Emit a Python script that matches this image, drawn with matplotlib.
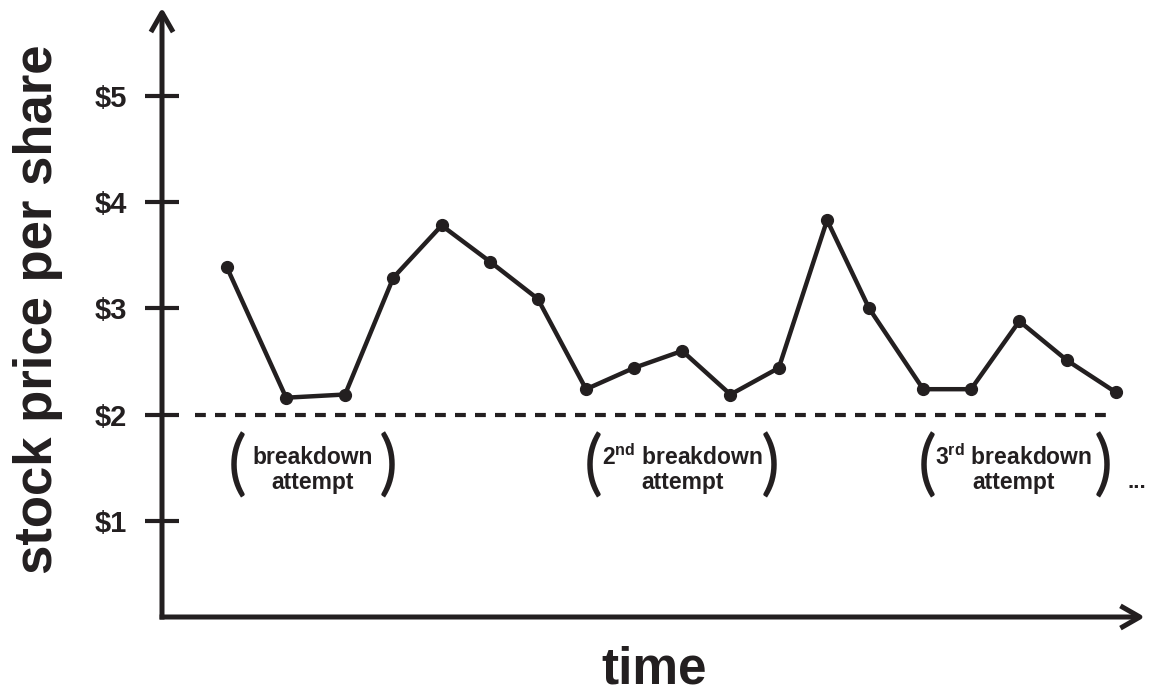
import matplotlib
matplotlib.use('Agg')
import matplotlib.pyplot as plt

plt.rcParams['font.family'] = ['Liberation Sans', 'DejaVu Sans']
plt.rcParams['mathtext.fontset'] = 'custom'
plt.rcParams['mathtext.rm'] = 'Liberation Sans'
plt.rcParams['mathtext.bf'] = 'Liberation Sans:bold'

# ---- data ----
time = [1.34, 2.57, 3.79, 4.79, 5.79, 6.79, 7.78, 8.78, 9.77, 10.77,
        11.77, 12.77, 13.77, 14.64, 15.76, 16.75, 17.75, 18.74, 19.75]
price = [3.39, 2.16, 2.19, 3.29, 3.78, 3.44, 3.09, 2.24, 2.44, 2.60,
         2.19, 2.44, 3.83, 3.00, 2.24, 2.24, 2.88, 2.51, 2.21]
support_level = 2.0
support_start, support_end = 0.68, 19.70
ytick_values = [1, 2, 3, 4, 5]
ytick_labels = ['\\$1', '\\$2', '\\$3', '\\$4', '\\$5']
attempt_first_lines = ['breakdown', r'$\mathbf{2^{nd}}$ breakdown', r'$\mathbf{3^{rd}}$ breakdown']
attempt_second_line = 'attempt'
attempt_centers = [3.11, 10.77, 17.64]
paren_left = [1.55, 8.92, 15.84]
paren_right = [4.68, 12.59, 19.48]
x_label = 'time'
y_label = 'stock price per share'

C = '#231f20'
W, H = 1151, 696
fig = plt.figure(figsize=(W / 100, H / 100), dpi=100)
fig.patch.set_facecolor('white')
ax = fig.add_axes([162 / W, (H - 617) / H, (W - 162) / W, 617 / H])
ax.set_xlim(0, 20.476)
ax.set_ylim(0.097, 5.901)
for s in ax.spines.values():
    s.set_visible(False)
ax.set_facecolor('none')

# axes with arrowheads
arrow_style = '->,head_length=1.4,head_width=0.8'
ax.annotate('', xy=(0, 5.83), xytext=(0, 0.073),
            arrowprops=dict(arrowstyle=arrow_style, lw=3.6, color=C,
                            shrinkA=0, shrinkB=0, capstyle='butt'),
            annotation_clip=False)
ax.annotate('', xy=(20.35, 0.097), xytext=(-0.05, 0.097),
            arrowprops=dict(arrowstyle=arrow_style, lw=3.6, color=C,
                            shrinkA=0, shrinkB=0, capstyle='butt'),
            annotation_clip=False)

ax.set_xticks([])
ax.set_yticks(ytick_values)
ax.set_yticklabels(ytick_labels, fontweight='bold', color=C)
ax.tick_params(axis='y', direction='inout', length=24.5, width=3, color=C,
               labelsize=21, pad=13)

# support line
ax.hlines(support_level, support_start, support_end, colors=C, lw=3,
          linestyles=[(0, (2.6, 2.2))])

# price series
ax.plot(time, price, '-o', color=C, lw=3.2, ms=8.5, clip_on=False)

# annotations
for cx, l1, pl, pr in zip(attempt_centers, attempt_first_lines, paren_left, paren_right):
    ax.text(cx, 1.60, l1, ha='center', va='center', fontsize=16.5,
            fontweight='bold', color=C)
    ax.text(cx, 1.36, attempt_second_line, ha='center', va='center', fontsize=16.5,
            fontweight='bold', color=C)
    ax.text(pl, 1.51, '(', ha='center', va='center', fontsize=51, color=C,
            family=['Lato', 'Liberation Sans'], fontweight='normal')
    ax.text(pr, 1.51, ')', ha='center', va='center', fontsize=51, color=C,
            family=['Lato', 'Liberation Sans'], fontweight='normal')
ax.text(20.19, 1.36, '...', ha='center', va='center', fontsize=16,
        fontweight='bold', color=C)

fig.text(38 / W, 1 - 309 / H, y_label, rotation=90, ha='center', va='center',
         fontsize=38, fontweight='bold', color=C)
fig.text(654 / W, 1 - 683 / H, x_label, ha='center', va='baseline',
         fontsize=37, fontweight='bold', color=C)

fig.savefig('out.png', dpi=100, facecolor='white')
